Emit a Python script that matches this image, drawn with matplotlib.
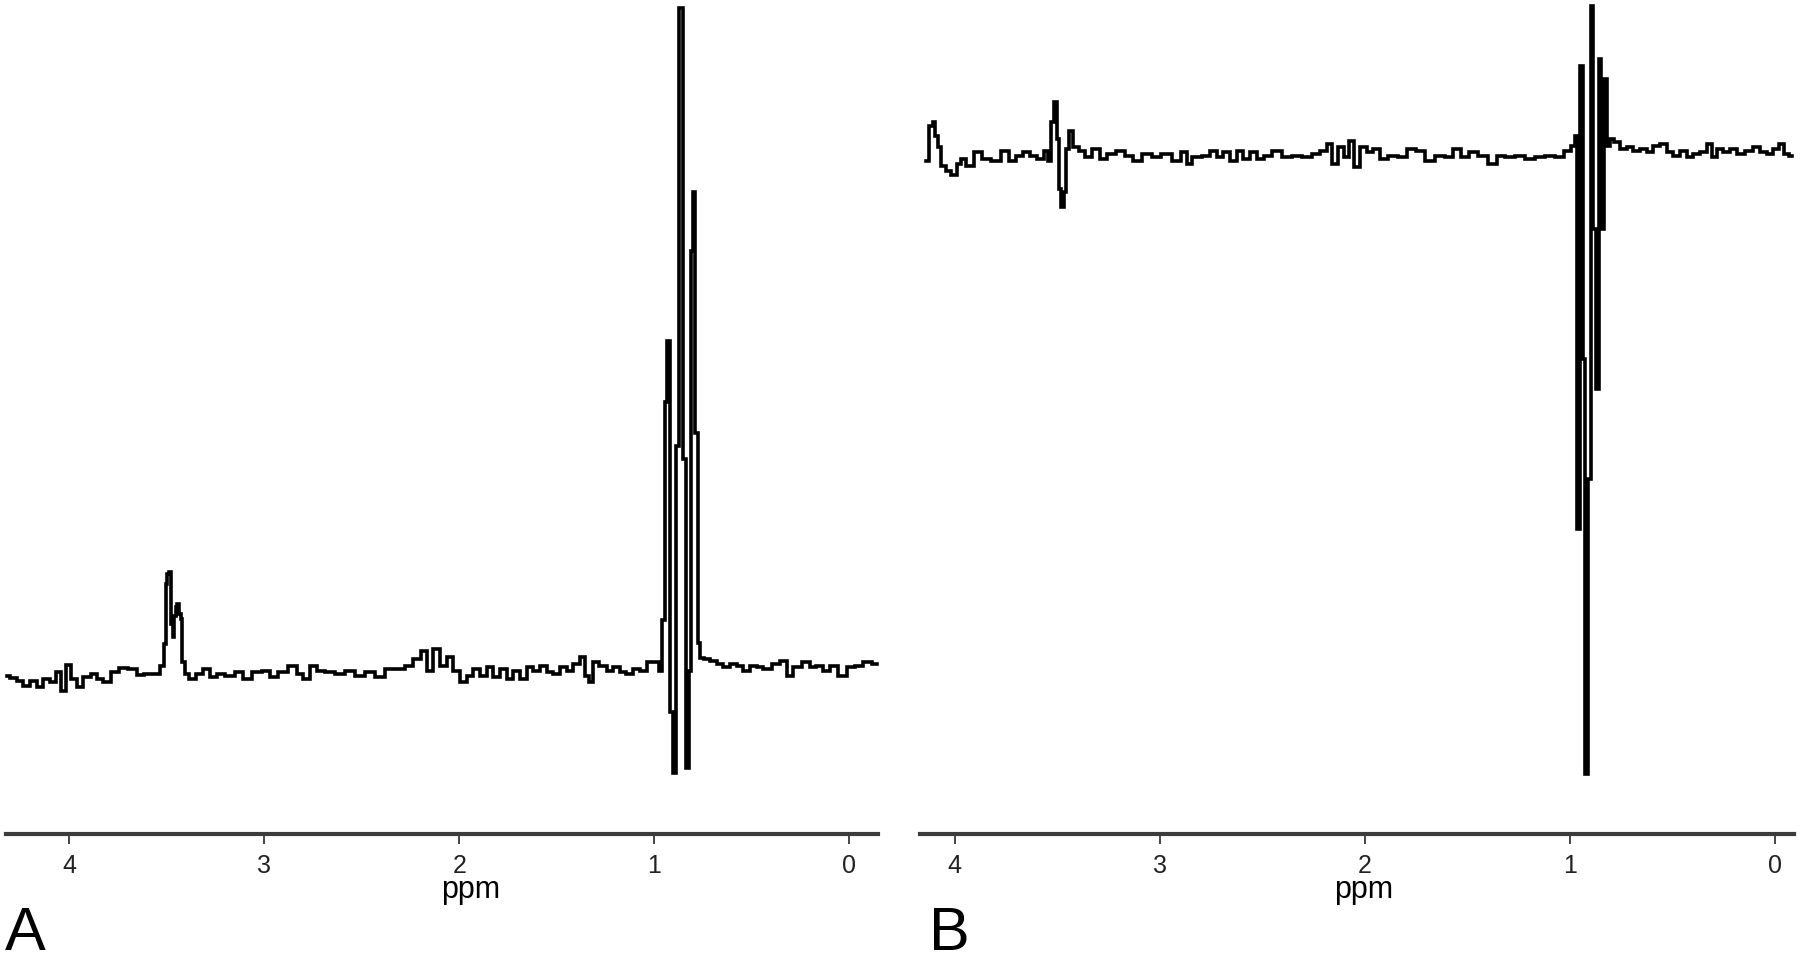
import matplotlib
matplotlib.use("Agg")
import matplotlib.pyplot as plt

# Panel A spectrum (ppm, intensity in arbitrary units)
ppm_a = [4.322, 4.288, 4.253, 4.219, 4.185, 4.151, 4.117, 4.083, 4.057, 4.031,
         4.006, 3.980, 3.946, 3.911, 3.869, 3.843, 3.809, 3.766, 3.724, 3.672,
         3.638, 3.595, 3.552, 3.519, 3.510, 3.501, 3.493, 3.484, 3.475, 3.467,
         3.459, 3.450, 3.442, 3.433, 3.424, 3.418, 3.399, 3.373, 3.330, 3.296,
         3.262, 3.228, 3.177, 3.125, 3.091, 3.040, 2.988, 2.954, 2.903, 2.852,
         2.818, 2.783, 2.749, 2.715, 2.664, 2.612, 2.561, 2.510, 2.459, 2.407,
         2.356, 2.305, 2.253, 2.219, 2.176, 2.151, 2.116, 2.083, 2.048, 2.014,
         1.980, 1.946, 1.911, 1.878, 1.843, 1.809, 1.775, 1.741, 1.706, 1.672,
         1.638, 1.604, 1.570, 1.536, 1.501, 1.467, 1.433, 1.399, 1.365, 1.348,
         1.322, 1.305, 1.262, 1.228, 1.194, 1.160, 1.126, 1.091, 1.057, 1.023,
         0.989, 0.963, 0.954, 0.941, 0.926, 0.910, 0.895, 0.879, 0.864, 0.846,
         0.831, 0.818, 0.810, 0.797, 0.784, 0.772, 0.756, 0.732, 0.698, 0.664,
         0.629, 0.596, 0.561, 0.527, 0.493, 0.459, 0.424, 0.373, 0.339, 0.305,
         0.271, 0.219, 0.186, 0.151, 0.117, 0.083, 0.032, -0.003, -0.054, -0.088,
         -0.140]
int_a = [0, -2, -5, -10, -5, -11, -3, -6, 4, -15,
         11, -3, -11, -1, 2, -3, -6, 4, 8, 7,
         1, 2, 2, 10, 32, 92, 102, 104, 52, 39,
         60, 69, 72, 62, 57, 14, 2, -3, 2, 7,
         -1, 2, 0, 4, -3, 4, 5, -1, 4, 10,
         2, -3, 10, 5, 4, 2, 5, 0, 4, -1,
         7, 7, 10, 17, 25, 5, 27, 10, 19, 5,
         -6, 0, 7, 0, 9, -1, 7, -3, 5, -3,
         9, 5, 10, 4, 2, 9, 5, 12, 19, 0,
         -6, 14, 10, 5, 9, 4, 2, 7, 5, 14,
         14, 5, 56, 274, 335, -36, -97, 230, 668, 217,
         -92, 5, 425, 484, 243, 33, 18, 17, 15, 12,
         9, 12, 10, 5, 10, 9, 7, 12, 15, 0,
         9, 14, 9, 10, 5, 10, 0, 9, 10, 14,
         12]

# Panel B spectrum
ppm_b = [4.139, 4.114, 4.103, 4.090, 4.074, 4.057, 4.033, 4.000, 3.984, 3.960,
         3.927, 3.887, 3.846, 3.797, 3.757, 3.716, 3.683, 3.651, 3.618, 3.578,
         3.553, 3.537, 3.524, 3.508, 3.500, 3.488, 3.475, 3.464, 3.451, 3.431,
         3.415, 3.375, 3.358, 3.309, 3.277, 3.236, 3.196, 3.147, 3.114, 3.065,
         3.017, 2.968, 2.919, 2.878, 2.862, 2.821, 2.773, 2.740, 2.708, 2.675,
         2.643, 2.610, 2.578, 2.545, 2.513, 2.472, 2.431, 2.382, 2.334, 2.285,
         2.236, 2.204, 2.171, 2.147, 2.114, 2.090, 2.065, 2.041, 2.009, 1.976,
         1.943, 1.911, 1.862, 1.814, 1.773, 1.732, 1.683, 1.635, 1.586, 1.553,
         1.513, 1.472, 1.424, 1.375, 1.342, 1.293, 1.245, 1.196, 1.147, 1.098,
         1.049, 1.009, 0.984, 0.971, 0.958, 0.945, 0.932, 0.919, 0.906, 0.893,
         0.880, 0.867, 0.854, 0.841, 0.828, 0.815, 0.797, 0.773, 0.740, 0.708,
         0.675, 0.643, 0.610, 0.578, 0.545, 0.513, 0.480, 0.448, 0.415, 0.382,
         0.350, 0.317, 0.301, 0.269, 0.236, 0.204, 0.171, 0.122, 0.090, 0.057,
         0.025, -0.008, -0.032, -0.057, -0.081]
int_b = [-7, 28, 32, 18, 7, -12, -17, -21, -10, -5,
         -12, 2, -5, -7, 3, -7, -2, 2, -2, -5,
         3, -7, 32, 52, 15, -35, -53, -38, 5, 23,
         7, 3, -3, 5, -5, 0, 3, -2, -7, 0,
         -3, 0, -7, 2, -10, -3, -2, 3, -3, 2,
         -7, 3, -5, 2, -5, -2, 3, -3, -2, -3,
         0, 3, 10, -10, 7, -3, 13, -13, 7, 2,
         5, -5, -2, -3, 5, 3, -7, -2, -3, 5,
         -3, 2, -2, -10, -2, -3, -2, -5, -3, -2,
         -3, 3, 8, 18, -375, 88, -205, -620, -325, 148,
         -75, -235, 95, -75, 75, 8, 15, 12, 5, 7,
         3, 5, 2, 8, 10, 2, -2, 3, -3, 0,
         2, 10, -3, 5, 2, 5, 0, 3, 7, 2,
         0, 5, 10, 0, -2]

ticks = [4, 3, 2, 1, 0]
tick_labels = ["4", "3", "2", "1", "0"]

W, H = 1800, 962
fig = plt.figure(figsize=(18, 9.62), dpi=100)

sans = ["Liberation Sans", "DejaVu Sans"]


def panel(x0, x1, xlim, ylim, ppm, inten):
    ax = fig.add_axes([x0 / W, (H - 835) / H, (x1 - x0) / W, 835 / H])
    ax.plot(ppm, inten, color="black", lw=2.6, drawstyle="steps-mid",
            solid_joinstyle="miter", clip_on=False)
    ax.set_xlim(*xlim)
    ax.set_ylim(*ylim)
    for s in ["top", "left", "right"]:
        ax.spines[s].set_visible(False)
    ax.spines["bottom"].set_linewidth(3)
    ax.spines["bottom"].set_color("#3c3c3c")
    ax.set_yticks([])
    ax.set_xticks(ticks)
    ax.set_xticklabels(tick_labels, family=sans, fontsize=18, color="#222222")
    ax.tick_params(axis="x", length=7, width=1.4, color="#444444", pad=7)
    ax.set_facecolor("none")
    return ax


panel(6, 878, (4.325, -0.147), (-158, 677), ppm_a, int_a)
panel(920, 1794, (4.17, -0.092), (-680, 155), ppm_b, int_b)

# axis titles and panel letters
fig.text(471 / W, 1 - 898 / H, "ppm", ha="center", va="baseline",
         family=sans, fontsize=22)
fig.text(1364 / W, 1 - 898 / H, "ppm", ha="center", va="baseline",
         family=sans, fontsize=22)
fig.text(5 / W, 1 - 950 / H, "A", ha="left", va="baseline",
         family=sans, fontsize=44)
fig.text(929 / W, 1 - 950 / H, "B", ha="left", va="baseline",
         family=sans, fontsize=44)

fig.savefig("out.png", dpi=100, facecolor="white")
